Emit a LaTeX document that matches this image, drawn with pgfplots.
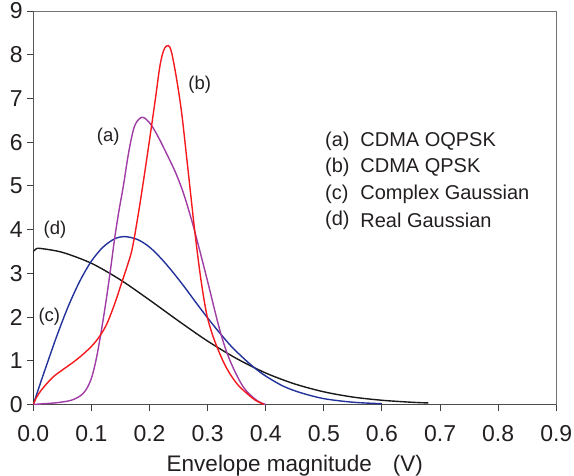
\documentclass[border=0pt]{standalone}
\usepackage{pgfplots}
\pgfplotsset{compat=1.18}
\usepackage{fontspec}
\setmainfont{Liberation Sans}
\definecolor{cred}{RGB}{245,25,30}
\definecolor{cpurple}{RGB}{160,60,165}
\definecolor{cblue}{RGB}{35,50,155}
\definecolor{cblack}{RGB}{25,25,25}
\definecolor{ctext}{RGB}{35,31,32}
\begin{document}
\begin{tikzpicture}
\begin{axis}[
  scale only axis, width=523pt, height=393.5pt,
  xmin=0, xmax=0.9, ymin=0, ymax=9,
  xtick={0,0.1,0.2,0.3,0.4,0.5,0.6,0.7,0.8,0.9},
  ytick={0,1,2,3,4,5,6,7,8,9},
  /pgf/number format/assume math mode=true,
  xticklabel style={/pgf/number format/fixed,/pgf/number format/fixed zerofill,/pgf/number format/precision=1, yshift=-11pt},
  yticklabel style={xshift=-1pt},
  tick pos=left, tick align=outside, major tick length=6pt,
  tick style={line width=1pt, color=black!75},
  axis line style={line width=0.8pt, color=black!55},
  ticklabel style={font=\fontsize{23}{23}\selectfont, text=ctext},
  xlabel={Envelope magnitude\hspace{21pt}(V)},
  xlabel style={font=\fontsize{22.5}{22.5}\selectfont, text=ctext, at={(axis description cs:0.5,0)}, anchor=base, yshift=-67pt},
  every axis plot/.append style={line width=1.4pt},
]
\draw[line width=1.3pt, black!70] (rel axis cs:0,1) -- (rel axis cs:0,0) -- (rel axis cs:1,0);
% (d) Real Gaussian
\addplot[cblack, sharp plot] coordinates {(0,0) (0,3.5)};
\addplot[cblack, smooth, tension=0.5] coordinates {
(0,3.5) (0.005,3.56) (0.012,3.57) (0.05,3.48) (0.1,3.23) (0.15,2.85) (0.2,2.39)
(0.25,1.91) (0.3,1.45) (0.35,1.05) (0.4,0.72) (0.45,0.47) (0.5,0.29) (0.55,0.17)
(0.6,0.097) (0.65,0.052) (0.68,0.035)};
% (c) Complex Gaussian
\addplot[cblue, smooth, tension=0.5] coordinates {
(0,0) (0.01,0.40) (0.02,0.79) (0.04,1.55) (0.06,2.24) (0.08,2.82) (0.1,3.28)
(0.12,3.60) (0.14,3.79) (0.158,3.84) (0.18,3.77) (0.2,3.60) (0.22,3.34) (0.24,3.03)
(0.26,2.69) (0.28,2.33) (0.3,1.98) (0.32,1.65) (0.34,1.34) (0.36,1.08) (0.38,0.845)
(0.4,0.65) (0.43,0.42) (0.46,0.27) (0.5,0.134) (0.55,0.052) (0.6,0.018)};
% (a) CDMA OQPSK
\addplot[cpurple, smooth, tension=0.55] coordinates {
(0,0) (0.02,0.02) (0.04,0.04) (0.06,0.08) (0.07,0.12) (0.08,0.19) (0.09,0.32)
(0.1,0.6) (0.108,1.02) (0.116,1.6) (0.125,2.35) (0.133,3.1) (0.14,3.8) (0.147,4.4)
(0.155,5.0) (0.162,5.6) (0.169,6.1) (0.176,6.42) (0.1876,6.57) (0.2009,6.43)
(0.215,6.12) (0.23,5.72) (0.245,5.3) (0.258,4.85) (0.268,4.42) (0.278,3.95) (0.298,2.92)
(0.321,1.70) (0.338,1.02) (0.361,0.41) (0.384,0.10) (0.4,0)};
% (b) CDMA QPSK
\addplot[cred, smooth, tension=0.55] coordinates {
(0,0) (0.005,0.15) (0.01,0.26) (0.02,0.43) (0.035,0.64) (0.05,0.79) (0.07,0.98)
(0.09,1.2) (0.108,1.45) (0.125,1.8) (0.14,2.3) (0.15,2.7) (0.16,3.1) (0.17,3.55)
(0.18,4.3) (0.19,5.15) (0.2,6.05) (0.21,6.98) (0.218,7.75) (0.225,8.12)
(0.2324,8.21) (0.238,8.05) (0.2468,7.43) (0.2554,6.66) (0.265,5.52) (0.278,3.95)
(0.288,2.9) (0.298,2.09) (0.307,1.65) (0.316,1.32) (0.327,0.98) (0.338,0.71)
(0.352,0.45) (0.367,0.26) (0.382,0.1) (0.397,0)};
% curve labels
\begin{scope}[every node/.style={font=\fontsize{18.5}{18.5}\selectfont, text=ctext}]
\node at (axis cs:0.2864,7.31) {(b)};
\node at (axis cs:0.129,6.13) {(a)};
\node at (axis cs:0.0373,3.99) {(d)};
\node at (axis cs:0.0276,2.01) {(c)};
\end{scope}
% legend text
\begin{scope}[every node/.style={font=\fontsize{20}{20}\selectfont, text=ctext, anchor=west, inner sep=0pt}]
\node at (axis cs:0.502,6.01) {(a)};
\node at (axis cs:0.5625,6.01) {CDMA OQPSK};
\node at (axis cs:0.502,5.42) {(b)};
\node at (axis cs:0.5625,5.42) {CDMA QPSK};
\node at (axis cs:0.502,4.81) {(c)};
\node at (axis cs:0.5625,4.81) {Complex Gaussian};
\node at (axis cs:0.502,4.22) {(d)};
\node at (axis cs:0.5625,4.22) {Real Gaussian};
\end{scope}
\end{axis}
\pgfresetboundingbox
\path (-33.3pt,-70.5pt) rectangle (540.7pt,404.5pt);
\end{tikzpicture}
\end{document}
